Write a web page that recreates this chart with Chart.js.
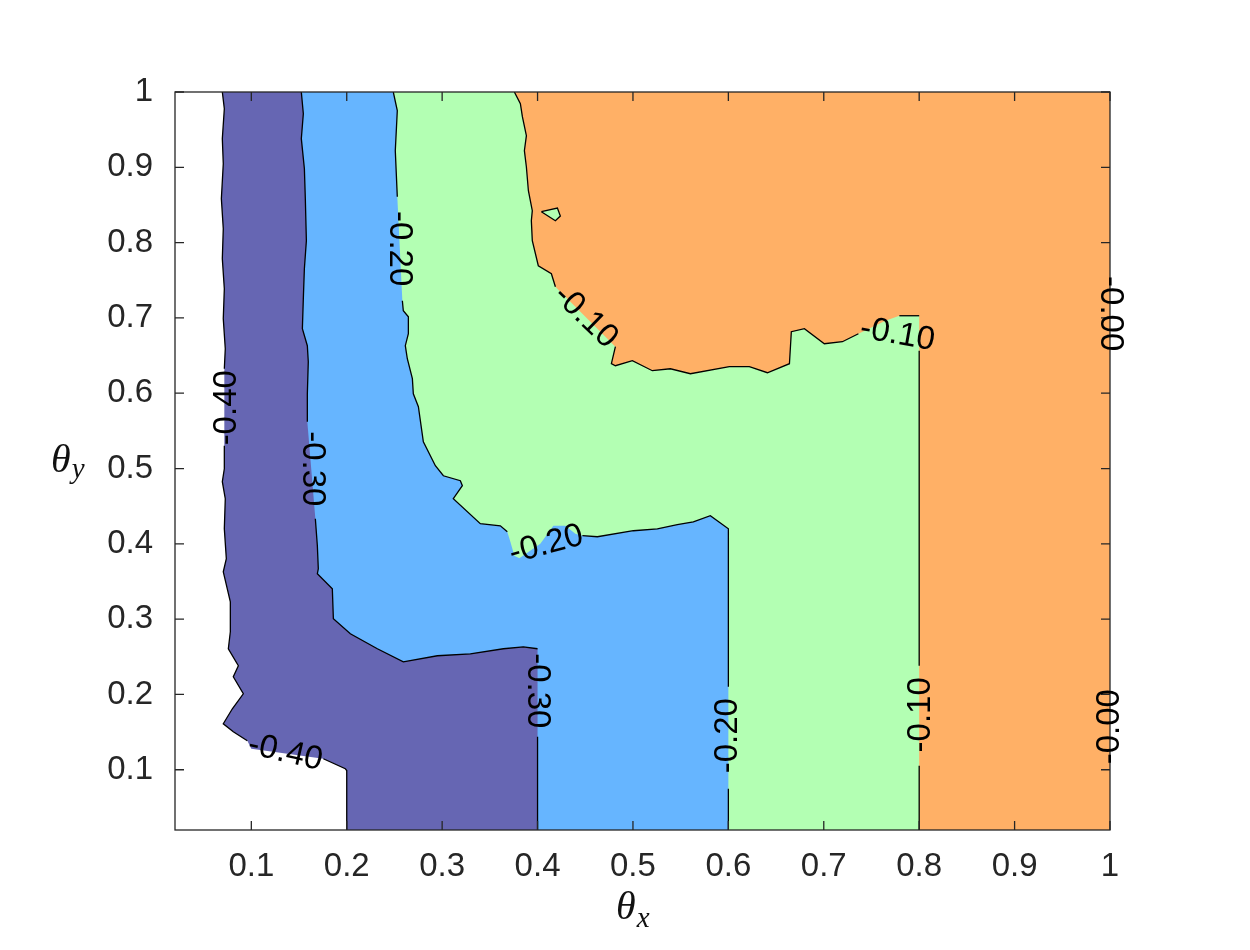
<!DOCTYPE html>
<html>
<head>
<meta charset="utf-8">
<script src="https://cdn.jsdelivr.net/npm/chart.js@4.4.0/dist/chart.umd.min.js"></script>
<style>
  body { margin: 0; background: #fff; }
  canvas { display: block; }
</style>
</head>
<body>
<canvas id="chart" width="1250" height="950"></canvas>
<script>
/* axes */
const xRange = [0.02, 1];
const yRange = [0.02, 1];
const xTicks = [0.1, 0.2, 0.3, 0.4, 0.5, 0.6, 0.7, 0.8, 0.9, 1];
const xTickLabels = ['0.1', '0.2', '0.3', '0.4', '0.5', '0.6', '0.7', '0.8', '0.9', '1'];
const yTicks = [0.1, 0.2, 0.3, 0.4, 0.5, 0.6, 0.7, 0.8, 0.9, 1];
const yTickLabels = ['0.1', '0.2', '0.3', '0.4', '0.5', '0.6', '0.7', '0.8', '0.9', '1'];

/* contour lines [theta_x, theta_y] */
const level040 = [[0.0696,1.0],[0.0717,0.9778],[0.0696,0.938],[0.0706,0.9048],[0.0686,0.8583],[0.0706,0.8185],
  [0.0696,0.7786],[0.0717,0.7388],[0.0706,0.6989],[0.0727,0.6591],[0.0717,0.6325],[0.0717,0.5303],[0.0717,0.4997],
  [0.0696,0.4825],[0.0727,0.4599],[0.0717,0.42],[0.0738,0.3802],[0.0706,0.3629],[0.078,0.3231],[0.078,0.2833],
  [0.0759,0.2607],[0.0864,0.2381],[0.0811,0.2235],[0.0916,0.2009],[0.0801,0.181],[0.0706,0.1611],[0.0811,0.1505],
  [0.0958,0.1385],[0.1,0.128],[0.1755,0.1146],[0.1985,0.1013],[0.2,0.099],[0.2,0.02]];
const level030 = [[0.1524,1.0],[0.1545,0.9712],[0.1524,0.938],[0.1556,0.8982],[0.1566,0.8583],[0.1577,0.8025],
  [0.1556,0.7653],[0.1545,0.7255],[0.1535,0.6857],[0.1587,0.6631],[0.1597,0.6418],[0.1587,0.5993],[0.1587,0.5622],
  [0.1671,0.4333],[0.1692,0.3975],[0.1702,0.3669],[0.1692,0.3603],[0.1849,0.3404],[0.186,0.3005],[0.2038,0.2806],
  [0.2321,0.2607],[0.2593,0.2434],[0.295,0.2514],[0.3296,0.254],[0.3642,0.2607],[0.3851,0.2633],[0.4,0.2607],
  [0.4,0.1438],[0.4,0.02]];
const level020 = [[0.2488,1.0],[0.253,0.9752],[0.2509,0.9221],[0.253,0.861],[0.2583,0.7228],[0.2593,0.7096],
  [0.2646,0.7016],[0.2646,0.679],[0.2614,0.6631],[0.2635,0.6458],[0.2688,0.6193],[0.2698,0.5993],[0.2751,0.5821],
  [0.2803,0.5356],[0.2929,0.5037],[0.3013,0.4904],[0.3191,0.4838],[0.3212,0.4772],[0.3117,0.4599],[0.34,0.4267],
  [0.361,0.424],[0.3683,0.4161],[0.3715,0.4028],[0.3757,0.3842],[0.3809,0.381],[0.4029,0.4001],[0.4166,0.424],
  [0.4291,0.424],[0.4396,0.4134],[0.447,0.4108],[0.4627,0.4094],[0.5004,0.4174],[0.5256,0.42],[0.5465,0.4254],
  [0.5633,0.4293],[0.5811,0.4373],[0.6,0.42],[0.6,0.2102],[0.6,0.0748],[0.6,0.02]];
const level010 = [[0.3757,1.0],[0.382,0.9845],[0.3841,0.9672],[0.3883,0.942],[0.3862,0.9221],[0.3883,0.9004],
  [0.3904,0.8689],[0.3945,0.8424],[0.3935,0.8291],[0.3945,0.8025],[0.4008,0.7693],[0.4145,0.7587],[0.4187,0.7414],
  [0.4816,0.6618],[0.4774,0.6392],[0.4816,0.6365],[0.4994,0.6432],[0.5203,0.6299],[0.5392,0.6325],[0.5602,0.6259],
  [0.601,0.6352],[0.622,0.6352],[0.6409,0.6272],[0.664,0.6392],[0.666,0.6817],[0.6797,0.6857],[0.7006,0.6657],
  [0.7195,0.6684],[0.7363,0.679],[0.7646,0.6963],[0.7792,0.7029],[0.8,0.7029],[0.8,0.6564],[0.8,0.2381],
  [0.8,0.1053],[0.8,0.02]];
const island010 = [[0.404,0.841],[0.4208,0.8459],[0.4239,0.8353],[0.4187,0.8291],[0.404,0.841]];

/* contour labels */
const labelText = ['-0.40', '-0.40', '-0.30', '-0.30', '-0.20', '-0.20', '-0.20', '-0.10', '-0.10', '-0.10', '-0.00', '-0.00'];
const labelX = [0.0748, 0.1356, 0.1639, 0.4, 0.2551, 0.4092, 0.6, 0.4501, 0.7772, 0.8013, 1.0, 1.0];
const labelY = [0.5807, 0.1226, 0.4997, 0.2049, 0.7919, 0.3988, 0.1452, 0.7016, 0.6777, 0.173, 0.7056, 0.1571];
const labelAngle = [-90, 13, 90, 90, 90, -15, -90, 44, 10, -90, 90, -90];

const labelFont = '33px "Liberation Sans", Arial, sans-serif';
const axisColor = '#262626';

function pts(a) { return a.map(p => ({x: p[0], y: p[1]})); }

const TL = [xRange[0], yRange[1]], TR = [xRange[1], yRange[1]];
const BL = [xRange[0], yRange[0]], BR = [xRange[1], yRange[0]];

function region(line, color, order) { // filled area below a level
  return {
    data: pts([TL, ...line, BL]),
    backgroundColor: color, borderColor: 'rgba(0,0,0,0)', borderWidth: 1,
    fill: 'shape', order: order
  };
}

function inLabel(c) { // true when a line segment sits under a label
  const ch = c.chart, xs = ch.scales.x, ys = ch.scales.y, g = ch.ctx;
  const mx = (c.p0.x + c.p1.x) / 2, my = (c.p0.y + c.p1.y) / 2;
  g.save();
  g.font = labelFont;
  let hit = false;
  for (let i = 0; i < labelText.length; i++) {
    const cx = xs.getPixelForValue(labelX[i]), cy = ys.getPixelForValue(labelY[i]);
    const a = labelAngle[i] * Math.PI / 180;
    const dx = mx - cx, dy = my - cy;
    const u = dx * Math.cos(a) + dy * Math.sin(a);
    const v = -dx * Math.sin(a) + dy * Math.cos(a);
    const half = g.measureText(labelText[i]).width / 2 + 4;
    if (Math.abs(u) < half && Math.abs(v) < 20) { hit = true; break; }
  }
  g.restore();
  return hit;
}

function contour(line) {
  return {
    data: pts(line), fill: false, borderColor: '#000', borderWidth: 1.3, order: 0,
    segment: { borderColor: c => inLabel(c) ? 'rgba(0,0,0,0)' : undefined }
  };
}

const datasets = [
  { data: pts([TL, TR, BR, BL]), backgroundColor: '#ffb066', borderColor: 'rgba(0,0,0,0)', borderWidth: 1, fill: 'shape', order: 10 },
  region(level010, '#b3ffb3', 9),
  region(level020, '#66b5ff', 8),
  region(level030, '#6666b3', 7),
  region(level040, '#ffffff', 6),
  { data: pts(island010), backgroundColor: '#b3ffb3', borderColor: 'rgba(0,0,0,0)', borderWidth: 1, fill: 'shape', order: 5 },
  contour(level040), contour(level030), contour(level020), contour(level010), contour(island010)
];

/* box with inward ticks, then the contour labels */
const framePlugin = {
  id: 'frame',
  afterDatasetsDraw(chart) {
    const g = chart.ctx, a = chart.chartArea, xs = chart.scales.x, ys = chart.scales.y;
    g.save();
    g.strokeStyle = axisColor;
    g.lineWidth = 1.3;
    g.strokeRect(a.left, a.top, a.right - a.left, a.bottom - a.top);
    g.beginPath();
    xTicks.forEach(v => {
      const px = xs.getPixelForValue(v);
      g.moveTo(px, a.bottom); g.lineTo(px, a.bottom - 9);
      g.moveTo(px, a.top); g.lineTo(px, a.top + 9);
    });
    yTicks.forEach(v => {
      const py = ys.getPixelForValue(v);
      g.moveTo(a.left, py); g.lineTo(a.left + 9, py);
      g.moveTo(a.right, py); g.lineTo(a.right - 9, py);
    });
    g.stroke();

    g.fillStyle = '#000';
    g.font = labelFont;
    g.textAlign = 'center';
    g.textBaseline = 'middle';
    for (let i = 0; i < labelText.length; i++) {
      g.save();
      g.translate(xs.getPixelForValue(labelX[i]), ys.getPixelForValue(labelY[i]));
      g.rotate(labelAngle[i] * Math.PI / 180);
      g.fillText(labelText[i], 0, 0);
      g.restore();
    }
    g.restore();
  }
};

/* axis titles theta_x and theta_y with subscripts */
const titlePlugin = {
  id: 'titles',
  afterDraw(chart) {
    const g = chart.ctx;
    g.save();
    g.fillStyle = '#111';
    g.textAlign = 'left';
    g.textBaseline = 'alphabetic';
    const big = 'italic 40px "Liberation Serif", "DejaVu Serif", serif';
    const small = 'italic 29px "Liberation Serif", "DejaVu Serif", serif';
    g.font = big;
    g.fillText('θ', 616, 919);
    let w = g.measureText('θ').width;
    g.font = small;
    g.fillText('x', 616 + w + 1, 927);
    g.font = big;
    g.fillText('θ', 51, 472);
    w = g.measureText('θ').width;
    g.font = small;
    g.fillText('y', 51 + w + 1, 478);
    g.restore();
  }
};

const tickFont = { family: '"Liberation Sans", Arial, sans-serif', size: 33 };

new Chart(document.getElementById('chart'), {
  type: 'line',
  data: { datasets: datasets },
  options: {
    responsive: false,
    animation: false,
    events: [],
    layout: { padding: { top: 92, right: 140, left: 0, bottom: 0 } },
    elements: { point: { radius: 0, hitRadius: 0 }, line: { tension: 0 } },
    plugins: { legend: { display: false }, tooltip: { enabled: false } },
    scales: {
      x: {
        type: 'linear', min: xRange[0], max: xRange[1],
        afterBuildTicks: s => { s.ticks = xTicks.map(v => ({ value: v })); },
        afterFit: s => { s.height = 120; },
        grid: { display: false }, border: { display: false },
        ticks: { callback: (v, i) => xTickLabels[i], padding: 9, color: axisColor, font: tickFont, autoSkip: false, maxRotation: 0 }
      },
      y: {
        type: 'linear', min: yRange[0], max: yRange[1],
        afterBuildTicks: s => { s.ticks = yTicks.map(v => ({ value: v })); },
        afterFit: s => { s.width = 175; },
        grid: { display: false }, border: { display: false },
        ticks: { callback: (v, i) => yTickLabels[i], padding: 14, color: axisColor, font: tickFont, autoSkip: false }
      }
    }
  },
  plugins: [framePlugin, titlePlugin]
});
</script>
</body>
</html>
